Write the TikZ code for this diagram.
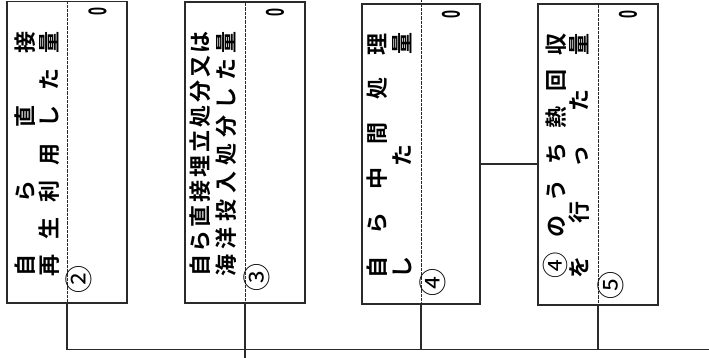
\documentclass[tikz,border=0pt]{standalone}
\usepackage{fontspec}
\usepackage{graphicx}
\newfontfamily\cjk{Noto Sans CJK JP}[BoldFont={Noto Sans CJK JP Bold}]
\newfontfamily\numfont{Liberation Sans}
\definecolor{linec}{HTML}{2A2A2A}
\tikzset{
  boxst/.style={draw=linec, line width=1.3pt, rectangle, inner sep=0pt},
  divst/.style={draw=linec, line width=0.55pt, dash pattern=on 0.7pt off 0.6pt},
  connst/.style={draw=linec, line width=1.3pt},
  jtext/.style={rotate=90, inner sep=0pt, font=\fontsize{22}{22}\selectfont\cjk\bfseries},
  cnum/.style={rotate=90, inner sep=0pt, font=\fontsize{28}{28}\selectfont\cjk},
  zero/.style={rotate=90, inner sep=0pt, font=\numfont\bfseries}
}
\newcommand{\zerochar}{\resizebox{8pt}{18pt}{0}}
\begin{document}
\begin{tikzpicture}[x=1pt,y=1pt]
\useasboundingbox (0,0) rectangle (709,358);
% boxes
\node[boxst, minimum width=120pt, minimum height=301.5pt] (b1) at (67,205.75) {};
\node[boxst, minimum width=120pt, minimum height=301pt] (b2) at (245,205.5) {};
\node[boxst, minimum width=118pt, minimum height=300pt] (b3) at (421,204) {};
\node[boxst, minimum width=120pt, minimum height=301pt] (b4) at (598,203.5) {};
% dividers
\coordinate (b3top) at (421,358);
\draw[divst] (b1.north) -- (b1.south);
\draw[divst] (b2.north) -- (b2.south);
\draw[divst] (b3top) -- (b3.south);
\draw[divst] (b4.north) -- (b4.south);
% connectors
\coordinate (hr) at (709,8.5);
\coordinate (b2end) at (245,0);
\coordinate (midy) at (0,194);
\draw[connst] (b1.south) |- (hr);
\draw[connst] (b2.south) -- (b2end);
\draw[connst] (b3.south) -- (b3.south |- hr);
\draw[connst] (b4.south) -- (b4.south |- hr);
\draw[connst] (b3.east |- midy) -- (b4.west |- midy);
% texts box 1
\node[jtext] (t1a) at (25,204) {\makebox[246pt]{自\hfill ら\hfill 直\hfill 接}};
\node[jtext] (t1b) at (49.5,204) {\makebox[246pt]{再\hfill 生\hfill 利\hfill 用\hfill し\hfill た\hfill 量}};
% box 2
\node[jtext] (t2a) at (200,204) {\makebox[246pt]{自\hfill ら\hfill 直\hfill 接\hfill 埋\hfill 立\hfill 処\hfill 分\hfill 又\hfill は}};
\node[jtext] (t2b) at (226,204) {\makebox[246pt]{海\hfill 洋\hfill 投\hfill 入\hfill 処\hfill 分\hfill し\hfill た\hfill 量}};
% box 3
\node[jtext] (t3a) at (377,202) {\makebox[246pt]{自\hfill ら\hfill 中\hfill 間\hfill 処\hfill 理}};
\node[jtext] (t3b) at (402,202) {\makebox[246pt]{し\hfill た\hfill 量}};
% box 4
\node[jtext] (t4a) at (556,202) {\makebox[246pt]{\raisebox{-1.5pt}{\smash{\scalebox{1.2}{\mdseries ④}}}\hfill の\hfill う\hfill ち\hfill 熱\hfill 回\hfill 収}};
\node[jtext] (t4b) at (579,202) {\makebox[246pt]{を\hfill 行\hfill っ\hfill た\hfill 量}};
% circled numbers
\node[cnum] (n2) at (79,78) {②};
\node[cnum] (n3) at (257,80) {③};
\node[cnum] (n4) at (433,75) {④};
\node[cnum] (n5) at (611,72) {⑤};
% zeros
\node[zero] (z1) at (97.5,346) {\zerochar};
\node[zero] (z2) at (275,345) {\zerochar};
\node[zero] (z3) at (451,343) {\zerochar};
\node[zero] (z4) at (628,343) {\zerochar};
\end{tikzpicture}
\end{document}
